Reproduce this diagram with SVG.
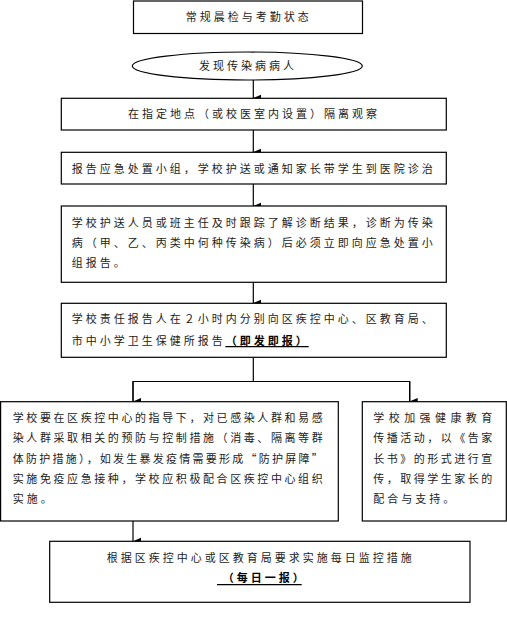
<svg xmlns="http://www.w3.org/2000/svg" width="507" height="622" viewBox="0 0 507 622">
<defs>
<marker id="ah" markerUnits="userSpaceOnUse" markerWidth="8" markerHeight="8" viewBox="0 0 8 8" refX="4" refY="8" orient="auto-start-reverse">
<path d="M0.5,0 L7.5,0 L4,8 Z" fill="#000"/>
</marker>
<style>
.b{fill:#fff;stroke:#000;stroke-width:1.2}
.t{font-family:"Noto Sans CJK SC","Noto Sans CJK JP",sans-serif;font-size:11px;fill:#222;letter-spacing:3px}
.c{text-anchor:middle}
.bd{font-weight:bold;fill:#000}
.ln{stroke:#000;stroke-width:1.2;fill:none}
</style>
</defs>
<rect width="507" height="622" fill="#fff"/>
<g id="connectors">
<line class="ln" x1="253.3" y1="80" x2="253.3" y2="98" transform="rotate(0)" marker-end="url(#ah)"/>
<line class="ln" x1="253.3" y1="130" x2="253.3" y2="152" marker-end="url(#ah)"/>
<line class="ln" x1="253.3" y1="184" x2="253.3" y2="206" marker-end="url(#ah)"/>
<line class="ln" x1="253.3" y1="282" x2="253.3" y2="303" marker-end="url(#ah)"/>
<polyline class="ln" points="253.3,357.3 253.3,381.5"/>
<polyline class="ln" points="133,401.5 133,381.5 409.7,381.5 409.7,401.5"/>
<line class="ln" x1="133" y1="381.5" x2="133" y2="401.5" marker-end="url(#ah)"/>
<line class="ln" x1="409.7" y1="381.5" x2="409.7" y2="401.5" marker-end="url(#ah)"/>
<line class="ln" x1="133" y1="521" x2="133" y2="541.3" marker-end="url(#ah)"/>
</g>
<g id="n1">
<rect class="b" x="133.5" y="1" width="229" height="32.5"/>
<text class="t" x="185.7" y="20.5">常规晨检与考勤状态</text>
</g>
<g id="n2">
<ellipse class="b" cx="247.3" cy="66" rx="115" ry="14"/>
<text class="t" x="199" y="69.5">发现传染病病人</text>
</g>
<g id="n3">
<rect class="b" x="61.3" y="98.3" width="385" height="31.7"/>
<text class="t" x="128" y="118">在指定地点（或校医室内设置）隔离观察</text>
</g>
<g id="n4">
<rect class="b" x="61.3" y="152.3" width="385" height="31.7"/>
<text class="t" x="71.7" y="172.5">报告应急处置小组，学校护送或通知家长带学生到医院诊治</text>
</g>
<g id="n5">
<rect class="b" x="61.3" y="206" width="385" height="76.3"/>
<text class="t" x="71.7" y="226.7">学校护送人员或班主任及时跟踪了解诊断结果，诊断为传染</text>
<text class="t" x="71.7" y="246.5">病（甲、乙、丙类中何种传染病）后必须立即向应急处置小</text>
<text class="t" x="71.7" y="266.7">组报告。</text>
</g>
<g id="n6">
<rect class="b" x="61.3" y="303.3" width="385" height="54"/>
<text class="t" x="71.7" y="323">学校责任报告人在２小时内分别向区疾控中心、区教育局、</text>
<text class="t" x="71.7" y="344.7">市中小学卫生保健所报告<tspan class="bd">（即发即报）</tspan></text>
<line class="ln" x1="225.3" y1="346.7" x2="308.7" y2="346.7"/>
</g>
<g id="n7">
<rect class="b" x="0.6" y="401.7" width="337.7" height="119.3"/>
<text class="t" x="12.7" y="421.7" textLength="313" lengthAdjust="spacing">学校要在区疾控中心的指导下，对已感染人群和易感</text>
<text class="t" x="12.7" y="442.3" textLength="313" lengthAdjust="spacing">染人群采取相关的预防与控制措施（消毒、隔离等群</text>
<text class="t" x="12.7" y="462.7" textLength="313" lengthAdjust="spacing">体防护措施），如发生暴发疫情需要形成“防护屏障”</text>
<text class="t" x="12.7" y="483" textLength="313" lengthAdjust="spacing">实施免疫应急接种，学校应积极配合区疾控中心组织</text>
<text class="t" x="12.7" y="503">实施。</text>
</g>
<g id="n8">
<rect class="b" x="362.3" y="401.7" width="144" height="119.3"/>
<text class="t" x="373.3" y="421.7" textLength="122" lengthAdjust="spacing">学校加强健康教育</text>
<text class="t" x="373.3" y="442.3" textLength="122" lengthAdjust="spacing">传播活动，以《告家</text>
<text class="t" x="373.3" y="462.7" textLength="122" lengthAdjust="spacing">长书》的形式进行宣</text>
<text class="t" x="373.3" y="483" textLength="122" lengthAdjust="spacing">传，取得学生家长的</text>
<text class="t" x="373.3" y="503">配合与支持。</text>
</g>
<g id="n9">
<rect class="b" x="49.7" y="541.3" width="420.3" height="61"/>
<text class="t" x="106.7" y="562.3">根据区疾控中心或区教育局要求实施每日监控措施</text>
<text class="t bd" x="222.7" y="582.3">（每日一报）</text>
<line class="ln" x1="217" y1="584.7" x2="301.7" y2="584.7"/>
</g>
</svg>
